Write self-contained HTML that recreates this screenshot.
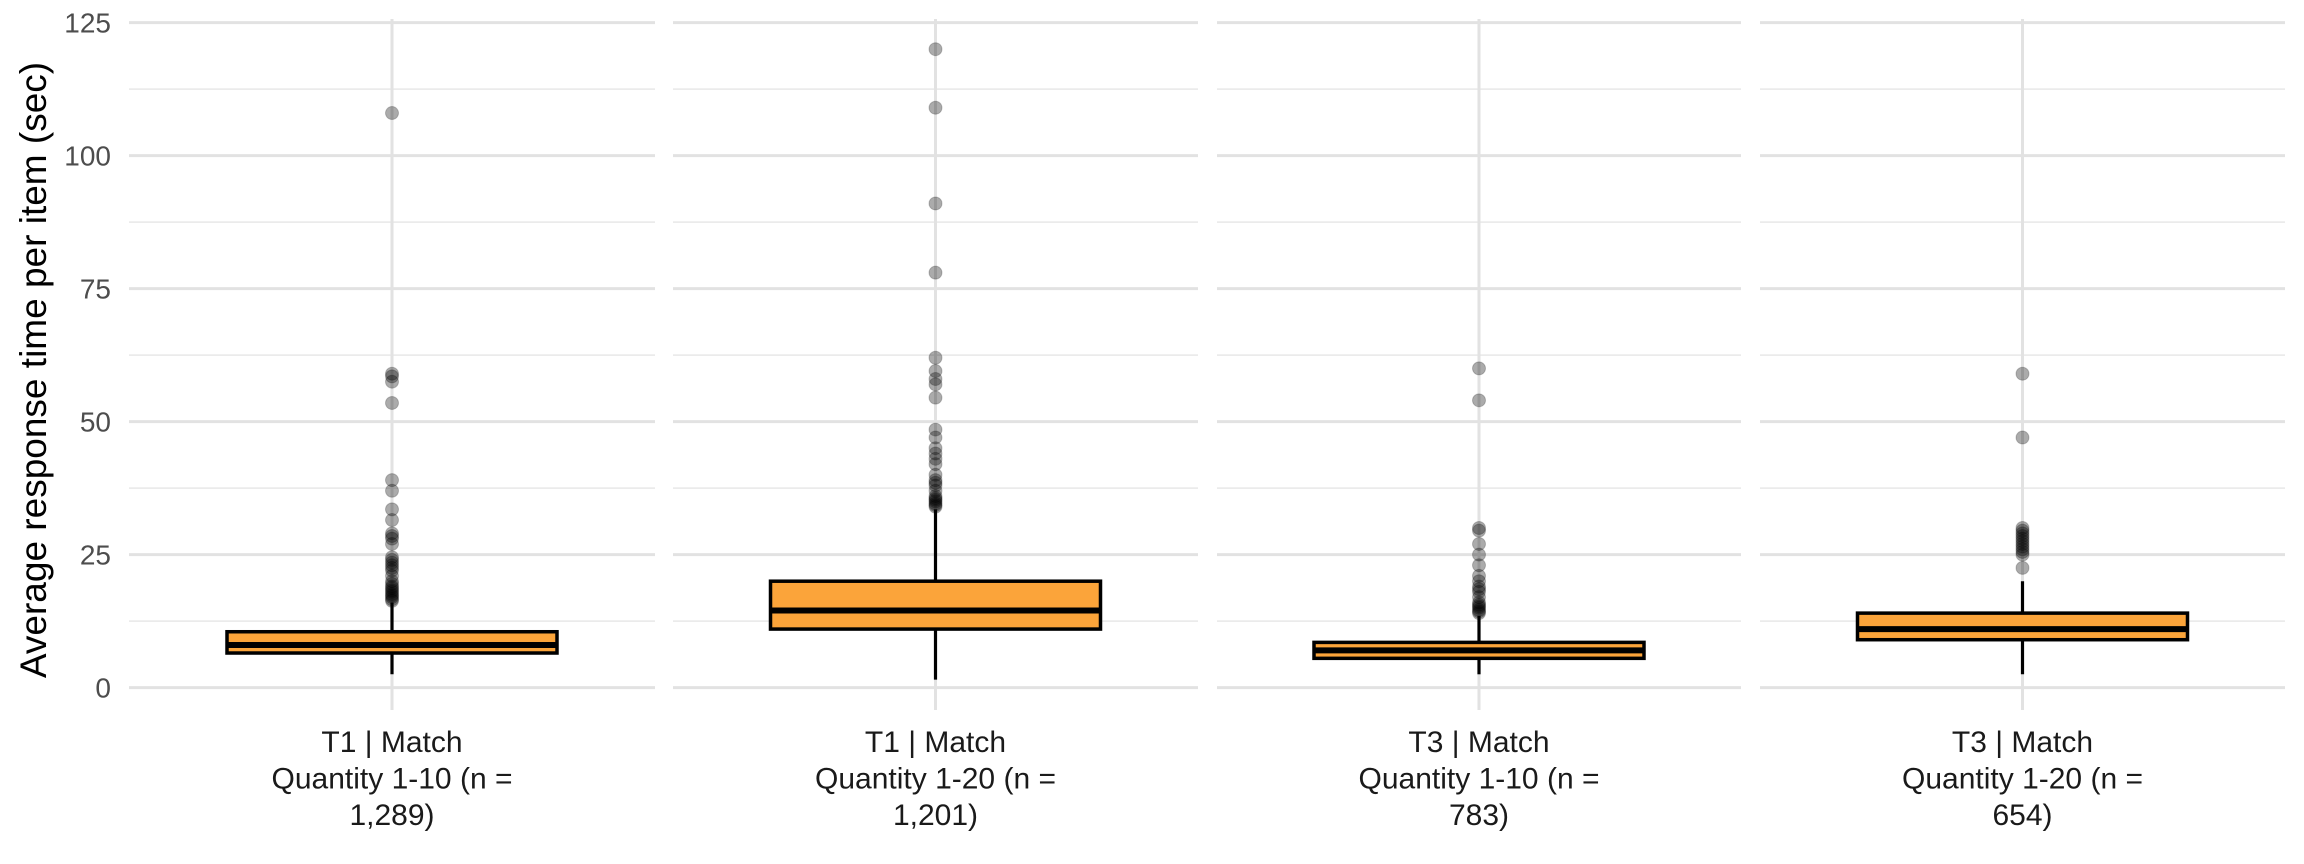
<!DOCTYPE html>
<html><head><meta charset="utf-8"><style>html,body{margin:0;padding:0;background:#fff}svg{display:block}</style></head>
<body>
<svg id="s" width="2304" height="864" viewBox="0 0 2304 864" xmlns="http://www.w3.org/2000/svg" font-family="Liberation Sans, sans-serif"></svg>
<script>
const s=document.getElementById('s');let h='';
const Y=v=>687.6-v*5.32;
const panels=[[129,655],[673,1198],[1217,1741],[1760,2285]];
const data=[
 {q1:6.5,med:8,q3:10.5,lo:2.5,hi:16,out:[16.3,16.6,17,17.3,17.6,18,18.3,18.7,19,19.5,20,21,22,22.5,23,23.5,24,24.5,27,28,28.5,29,31.5,33.5,37,39,53.5,57.5,58.5,59,108],l:['T1 | Match','Quantity 1-10 (n =','1,289)']},
 {q1:11,med:14.5,q3:20,lo:1.5,hi:33.5,out:[34,34.3,34.6,35,35.3,35.6,36,37,38,38.5,39,40,42,43,44,45,47,48.5,54.5,57,58,59.5,62,78,91,109,120],l:['T1 | Match','Quantity 1-20 (n =','1,201)']},
 {q1:5.5,med:7,q3:8.5,lo:2.5,hi:13.5,out:[14,14.3,14.6,15,15.3,15.6,16,17,18,18.5,19,20,21,23,25,27,29.5,30,54,60],l:['T3 | Match','Quantity 1-10 (n =','783)']},
 {q1:9,med:11,q3:14,lo:2.5,hi:20,out:[22.5,25,25.5,26,26.5,27,27.5,28,28.5,29,29.5,30,47,59],l:['T3 | Match','Quantity 1-20 (n =','654)']}
];
panels.forEach(([a,b],i)=>{
 for(let v=0;v<=125;v+=12.5){const maj=v%25===0;h+=`<line x1="${a}" x2="${b}" y1="${Y(v)}" y2="${Y(v)}" stroke="${maj?'#e2e2e2':'#ebebeb'}" stroke-width="${maj?3:1.8}"/>`;}
 const c=(a+b)/2;h+=`<line x1="${c}" x2="${c}" y1="19" y2="710" stroke="#e2e2e2" stroke-width="3"/>`;
 const d=data[i],w=165;
 h+=`<line x1="${c}" x2="${c}" y1="${Y(d.hi)}" y2="${Y(d.lo)}" stroke="#000" stroke-width="3.2"/>`;
 h+=`<rect x="${c-w}" y="${Y(d.q3)}" width="${2*w}" height="${Y(d.q1)-Y(d.q3)}" fill="#FBA43A" stroke="#000" stroke-width="3.5"/>`;
 h+=`<line x1="${c-w}" x2="${c+w}" y1="${Y(d.med)}" y2="${Y(d.med)}" stroke="#000" stroke-width="6"/>`;
 d.out.forEach(v=>{h+=`<circle cx="${c}" cy="${Y(v)}" r="6.5" fill="rgba(0,0,0,0.33)" stroke="rgba(0,0,0,0.2)" stroke-width="1"/>`;});
 d.l.forEach((t,k)=>{h+=`<text x="${c}" y="${752+k*36.5}" font-size="30" text-anchor="middle" fill="#1a1a1a">${t}</text>`;});
});
for(let v=0;v<=125;v+=25)h+=`<text x="111" y="${Y(v)+10}" font-size="28" text-anchor="end" fill="#4d4d4d">${v}</text>`;
h+=`<text transform="translate(46,370) rotate(-90)" font-size="37" text-anchor="middle" fill="#000">Average response time per item (sec)</text>`;
s.innerHTML=h;
</script>
</body></html>
